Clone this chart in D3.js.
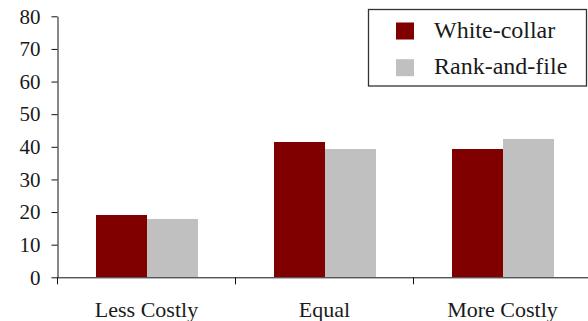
<!DOCTYPE html>
<html>
<head>
<meta charset="utf-8">
<script src="https://cdn.jsdelivr.net/npm/d3@7"></script>
<style>
  html, body { margin: 0; padding: 0; background: #fff; }
  svg { display: block; }
  text { font-family: "Liberation Serif", "DejaVu Serif", serif; fill: #1a1a1a; }
</style>
</head>
<body>
<svg id="chart" width="588" height="321"></svg>
<script>
// Share of respondents by perceived relative cost, split by occupational group
const categories = ["Less Costly", "Equal", "More Costly"];
const seriesNames = ["White-collar", "Rank-and-file"];
const whiteCollar = [19.0, 41.5, 39.3];
const rankAndFile = [17.9, 39.3, 42.4];
const yTicks = [0, 10, 20, 30, 40, 50, 60, 70, 80];
const colors = ["#800000", "#c0c0c0"];

const seriesValues = [whiteCollar, rankAndFile];

const svg = d3.select("#chart");
const W = 588, H = 321;
const margin = { top: 16.3, right: -3.5, bottom: 43.7, left: 57.5 };
const plotW = W - margin.left - margin.right;
const plotH = H - margin.top - margin.bottom;
const barWidth = 51;

const g = svg.append("g").attr("transform", `translate(${margin.left},${margin.top})`);

const x = d3.scaleBand().domain(categories).range([0, plotW]).padding(0);
const xSub = d3.scaleBand()
  .domain(seriesNames)
  .range([x.bandwidth() / 2 - barWidth, x.bandwidth() / 2 + barWidth]);
const y = d3.scaleLinear().domain([0, 80]).range([plotH, 0]);

// Bars
const rows = categories.map((c, i) => ({ category: c, values: seriesNames.map((s, j) => ({ series: s, value: seriesValues[j][i], idx: j })) }));
g.selectAll("g.group")
  .data(rows)
  .join("g")
  .attr("class", "group")
  .attr("transform", d => `translate(${x(d.category)},0)`)
  .selectAll("rect")
  .data(d => d.values)
  .join("rect")
  .attr("x", d => xSub(d.series))
  .attr("width", xSub.bandwidth())
  .attr("y", d => y(d.value))
  .attr("height", d => y(0) - y(d.value))
  .attr("fill", d => colors[d.idx])
  .attr("shape-rendering", "crispEdges");

// Y axis
const yAxis = g.append("g")
  .call(d3.axisLeft(y).tickValues(yTicks).tickSize(6).tickSizeOuter(0).tickPadding(11).tickFormat(d3.format("d")));
yAxis.select(".domain").attr("stroke", "#111");
yAxis.selectAll(".tick line").attr("stroke", "#111");
yAxis.selectAll(".tick text").attr("font-size", 21).attr("fill", "#1a1a1a");

// X axis: category labels centred in each band, tick marks at band boundaries
const xAxis = g.append("g")
  .attr("transform", `translate(0,${plotH})`)
  .call(d3.axisBottom(x).tickSize(0).tickSizeOuter(0).tickPadding(24));
xAxis.select(".domain").attr("stroke", "#111");
xAxis.selectAll(".tick text").attr("font-size", 22).attr("fill", "#1a1a1a");
xAxis.selectAll("line.boundary")
  .data(categories)
  .join("line")
  .attr("class", "boundary")
  .attr("x1", d => x(d)).attr("x2", d => x(d))
  .attr("y1", 0).attr("y2", 7)
  .attr("stroke", "#111");

// Legend
const legend = svg.append("g").attr("transform", "translate(368.5,9.5)");
legend.append("rect")
  .attr("width", 218).attr("height", 76.5)
  .attr("fill", "#fff").attr("stroke", "#333").attr("stroke-width", 1.3);
const item = legend.selectAll("g.item")
  .data(seriesNames)
  .join("g")
  .attr("class", "item")
  .attr("transform", (d, i) => `translate(0,${13 + i * 36.7})`);
item.append("rect")
  .attr("x", 27.5).attr("width", 18).attr("height", 17)
  .attr("fill", (d, i) => colors[i]);
item.append("text")
  .attr("x", 65.5).attr("y", 15)
  .attr("font-size", 24)
  .text(d => d);
</script>
</body>
</html>
